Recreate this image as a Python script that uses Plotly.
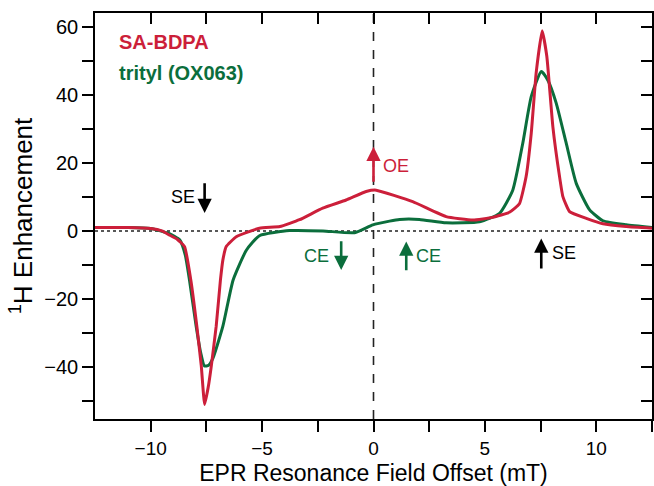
import plotly.graph_objects as go

# SA-BDPA (red)
bdpa_x = [-12.5, -11.0, -10.0, -9.5, -9.16, -8.8, -8.48, -8.2, -7.93, -7.73, -7.58, -7.42, -7.28,
          -7.06, -6.87, -6.76, -6.61, -6.16, -5.12, -4.2, -3.32, -2.28, -1.23, -0.33, 0.12, 1.76,
          3.26, 4.46, 5.35, 6.1, 6.55, 6.85, 7.08, 7.3, 7.57, 7.78, 8.05, 8.35, 8.5, 8.8, 9.55,
          10.3, 11.34, 12.5]
bdpa_y = [1.0, 1.0, 0.7, 0.0, -1.2, -2.5, -4.6, -14.4, -28.0, -39.7, -51.0, -46.0, -39.7,
          -28.0, -14.4, -8.5, -4.6, -1.7, 0.8, 1.3, 3.3, 6.7, 9.1, 11.6, 12.0, 8.6,
          4.2, 3.2, 4.0, 5.5, 8.0, 16.0, 28.7, 46.4, 58.9, 51.3, 30.7, 16.0, 10.1, 5.7, 3.7,
          2.1, 1.3, 0.8]

# trityl OX063 (green)
trityl_x = [-12.5, -11.0, -10.0, -9.16, -8.7, -8.45, -8.26, -7.96, -7.75, -7.59, -7.4, -7.21,
            -6.76, -6.3, -5.7, -5.12, -3.77, -2.27, -0.85, -0.03, 0.72, 1.17, 2.06, 3.26, 4.76,
            5.66, 6.25, 6.7, 7.08, 7.53, 7.82, 8.2, 8.65, 9.1, 9.7, 10.3, 11.34, 12.5]
trityl_y = [1.0, 1.0, 0.7, -0.8, -2.6, -7.0, -14.4, -28.0, -36.0, -39.7, -39.5, -37.5,
            -28.0, -14.4, -5.6, -1.4, 0.1, 0.0, -0.5, 1.8, 2.9, 3.4, 3.4, 2.4, 2.7,
            5.2, 12.0, 25.8, 39.5, 46.9, 44.4, 37.6, 25.8, 14.0, 6.2, 3.0, 1.8, 1.0]

x_tickvals = [-10, -7.5, -5, -2.5, 0, 2.5, 5, 7.5, 10, 12.5]
x_ticktext = ["\u221210", "", "\u22125", "", "0", "", "5", "", "10", ""]
y_tickvals = [-50, -40, -30, -20, -10, 0, 10, 20, 30, 40, 50, 60]
y_ticktext = ["", "\u221240", "", "\u221220", "", "0", "", "20", "", "40", "", "60"]

RED = "#CC1F3A"
GREEN = "#0B6E3C"
FONT = "Liberation Sans, Arial, sans-serif"
XR = [-12.5, 12.5]
YR = [-55.3, 64.1]

fig = go.Figure()
fig.add_trace(go.Scatter(x=trityl_x, y=trityl_y, mode="lines",
                         line=dict(color=GREEN, width=3, shape="spline", smoothing=0.5),
                         name="trityl (OX063)"))
fig.add_trace(go.Scatter(x=bdpa_x, y=bdpa_y, mode="lines",
                         line=dict(color=RED, width=3, shape="spline", smoothing=0.4),
                         name="SA-BDPA"))
# carrier trace so that the mirrored top/right axes are drawn
fig.add_trace(go.Scatter(x=bdpa_x, y=bdpa_y, xaxis="x2", yaxis="y2", mode="lines",
                         line=dict(width=0, color="rgba(0,0,0,0)"), hoverinfo="skip",
                         showlegend=False))

# reference lines
fig.add_shape(type="line", x0=XR[0], x1=XR[1], y0=0, y1=0, xref="x", yref="y",
              line=dict(color="#222", width=1.6, dash="dot"), layer="below")
fig.add_shape(type="line", x0=0, x1=0, y0=YR[0], y1=YR[1], xref="x", yref="y",
              line=dict(color="#222", width=1.6, dash="dash"), layer="below")

ann = []
# legend labels
ann.append(dict(x=-11.5, y=55.6, text="<b>SA-BDPA</b>", showarrow=False, xanchor="left",
                font=dict(color=RED, size=20, family=FONT)))
ann.append(dict(x=-11.5, y=46.5, text="<b>trityl (OX063)</b>", showarrow=False, xanchor="left",
                font=dict(color=GREEN, size=20, family=FONT)))

def arrow(xh, yh, yt, color):
    ann.append(dict(x=xh, y=yh, ax=xh, ay=yt, axref="x", ayref="y", xref="x", yref="y",
                    text="", showarrow=True, arrowhead=2, arrowsize=1.1, arrowwidth=2.6,
                    arrowcolor=color))

def label(x, y, t, color):
    ann.append(dict(x=x, y=y, text=t, showarrow=False, xref="x", yref="y",
                    font=dict(color=color, size=18, family=FONT)))

arrow(-7.58, 5.3, 14.5, "black")
label(-8.53, 10.0, "SE", "black")
arrow(0.0, 24.8, 14.0, RED)
label(1.02, 19.1, "OE", RED)
arrow(-1.45, -11.5, -2.6, GREEN)
label(-2.54, -7.4, "CE", GREEN)
arrow(1.47, -3.1, -12.0, GREEN)
label(2.47, -7.4, "CE", GREEN)
arrow(7.53, -2.2, -11.5, "black")
label(8.57, -6.6, "SE", "black")

axis_common = dict(showgrid=False, zeroline=False, showline=True, linecolor="black",
                   linewidth=1.6, tickcolor="black", tickwidth=1.6, ticklen=11)

fig.update_layout(
    width=654, height=486,
    margin=dict(l=95, r=2, t=13, b=67),
    plot_bgcolor="white", paper_bgcolor="white",
    showlegend=False,
    font=dict(family=FONT, size=20, color="black"),
    annotations=ann,
    xaxis=dict(range=XR, tickmode="array", tickvals=x_tickvals, ticktext=x_ticktext,
               ticks="outside", mirror=False, tickfont=dict(size=19),
               title=dict(text="EPR Resonance Field Offset (mT)", font=dict(size=23), standoff=10),
               **axis_common),
    yaxis=dict(range=YR, tickmode="array", tickvals=y_tickvals, ticktext=y_ticktext,
               ticks="outside", mirror=False, tickfont=dict(size=20),
               title=dict(text="<sup>1</sup>H Enhancement", font=dict(size=26), standoff=4),
               **axis_common),
    xaxis2=dict(range=XR, overlaying="x", side="top", anchor="y", tickmode="array",
                tickvals=x_tickvals, ticks="inside", showticklabels=False, **axis_common),
    yaxis2=dict(range=YR, overlaying="y", side="right", anchor="x", tickmode="array",
                tickvals=y_tickvals, ticks="inside", showticklabels=False, **axis_common),
)

fig.write_html("out.html")
